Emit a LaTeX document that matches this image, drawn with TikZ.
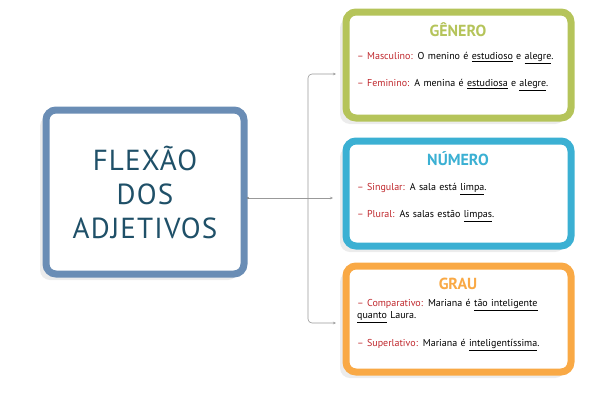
\documentclass[tikz,border=0pt]{standalone}
\usepackage{fontspec}
\setmainfont{PT Sans}
\usetikzlibrary{shadows,arrows.meta}
\definecolor{cgreen}{HTML}{B5C45A}
\definecolor{cblue}{HTML}{3BB0D3}
\definecolor{corange}{HTML}{F9A945}
\definecolor{cleft}{HTML}{6A8DB5}
\definecolor{cred}{HTML}{C0282D}
\definecolor{ctitle}{HTML}{1F5068}
\tikzset{
 box/.style={draw=#1,line width=7pt,rounded corners=10pt,fill=white,drop shadow={opacity=0.15,shadow xshift=-6pt,shadow yshift=-6pt}},
 ttl/.style={text=#1,font=\fontsize{16}{16}\selectfont\bfseries,anchor=center},
 ln/.style={anchor=west,font=\fontsize{10}{12}\selectfont,text width=220pt,align=left,inner sep=1pt},
 con/.style={draw=gray!80,line width=0.6pt},
 arr/.style={con,-{Stealth[length=3pt,width=2.5pt]}}
}
\newcommand{\lbl}[1]{\textcolor{cred}{– #1:}}
\begin{document}
\begin{tikzpicture}[x=1pt,y=-1pt]
\useasboundingbox (0,0) rectangle (600,400);
\draw[box=cleft] (46,110) rectangle (244,274);
\node[text=ctitle,font=\fontsize{29}{34}\selectfont\addfontfeature{LetterSpace=4},align=center] (L) at (145,192) {FLEXÃO\\DOS\\ADJETIVOS};
\coordinate (lr) at (248,198);
\draw[box=cgreen] (346,12) rectangle (571,118);
\draw[box=cblue] (346,141) rectangle (571,246);
\draw[box=corange] (346,266) rectangle (571,372);
\node[ttl=cgreen] (t1) at (458,30) {GÊNERO};
\node[ln] (g1) at (356,58) {\lbl{Masculino} O menino é \underline{estudioso} e \underline{alegre}.};
\node[ln] (g2) at (356,85) {\lbl{Feminino} A menina é \underline{estudiosa} e \underline{alegre}.};
\node[ttl=cblue] (t2) at (458,159) {NÚMERO};
\node[ln] (n1) at (356,189) {\lbl{Singular} A sala está \underline{limpa}.};
\node[ln] (n2) at (356,216) {\lbl{Plural} As salas estão \underline{limpas}.};
\node[ttl=corange] (t3) at (458,284) {GRAU};
\node[ln,anchor=north west,text width=210pt] (o1) at (356,298) {\lbl{Comparativo} Mariana é \underline{tão inteligente}\\\underline{quanto} Laura.};
\node[ln] (o2) at (356,345) {\lbl{Superlativo} Mariana é \underline{inteligentíssima}.};
\coordinate (a1) at (336,74);
\coordinate (a2) at (333,198);
\coordinate (a3) at (336,323);
\draw[con] (lr) -- (308,198);
\draw[arr] (308,198) -- (a2);
\draw[arr] (308,198) -- (308,78) arc[start angle=180,end angle=270,radius=4] -- (a1);
\draw[arr] (308,198) -- (308,319) arc[start angle=180,end angle=90,radius=4] -- (a3);
\fill[gray] (lr) circle (1.2);
\end{tikzpicture}
\end{document}
